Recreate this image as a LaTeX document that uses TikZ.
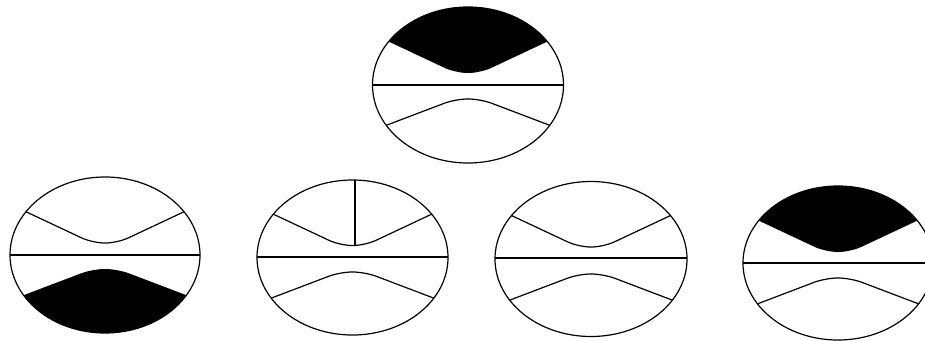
\documentclass[tikz,border=0pt]{standalone}
\tikzset{
  ln/.style={line width=1.2pt, line join=round},
  blk/.style={fill=black},
  rc/.style={rounded corners=12pt}
}
\begin{document}
\begin{tikzpicture}[x=1pt, y=-1pt]
\useasboundingbox (0,0) rectangle (925,340);

% ---------- top ellipse ----------
\begin{scope}
  \clip (468,85) ellipse [x radius=95.5, y radius=78];
  \fill[blk, rc] (355.5,0) -- (355.5,26) -- (455.5,73) -- (480.5,73) -- (580.5,26) -- (580.5,0) -- cycle;
  \draw[ln, rc] (355.5,137) -- (455.5,99) -- (480.5,99) -- (580.5,137);
  \draw[ln] (370,85) -- (566,85);
\end{scope}
\draw[ln] (468,85) ellipse [x radius=95.5, y radius=78];

% ---------- bottom left ellipse ----------
\begin{scope}
  \clip (105,255) ellipse [x radius=95, y radius=78];
  \draw[ln, rc] (-7.5,196) -- (92.5,243) -- (117.5,243) -- (217.5,196);
  \fill[blk, rc] (-7.5,345) -- (-7.5,307) -- (92.5,269) -- (117.5,269) -- (217.5,307) -- (217.5,345) -- cycle;
  \draw[ln] (8,255) -- (202,255);
\end{scope}
\draw[ln] (105,255) ellipse [x radius=95, y radius=78];

% ---------- second bottom ellipse ----------
\begin{scope}
  \clip (352.5,257.5) ellipse [x radius=95.5, y radius=77.5];
  \draw[ln, rc] (240,198.5) -- (340,245.5) -- (365,245.5) -- (465,198.5);
  \draw[ln, rc] (240,310) -- (340,272) -- (365,272) -- (465,310);
  \draw[ln] (255,257) -- (450,257);
  \draw[ln] (355,175) -- (355,245.5);
\end{scope}
\draw[ln] (352.5,257.5) ellipse [x radius=95.5, y radius=77.5];

% ---------- third bottom ellipse ----------
\begin{scope}
  \clip (591,259) ellipse [x radius=96, y radius=77.5];
  \draw[ln, rc] (478.5,200) -- (578.5,247) -- (603.5,247) -- (703.5,200);
  \draw[ln, rc] (478.5,312) -- (578.5,274) -- (603.5,274) -- (703.5,312);
  \draw[ln] (493,258) -- (689,258);
\end{scope}
\draw[ln] (591,259) ellipse [x radius=96, y radius=77.5];

% ---------- right ellipse ----------
\begin{scope}
  \clip (838,263) ellipse [x radius=95, y radius=77];
  \fill[blk, rc] (725.5,170) -- (725.5,205) -- (825.5,252) -- (850.5,252) -- (950.5,205) -- (950.5,170) -- cycle;
  \draw[ln, rc] (725.5,316) -- (825.5,278) -- (850.5,278) -- (950.5,316);
  \draw[ln] (741,263) -- (935,263);
\end{scope}
\draw[ln] (838,263) ellipse [x radius=95, y radius=77];
\end{tikzpicture}
\end{document}
